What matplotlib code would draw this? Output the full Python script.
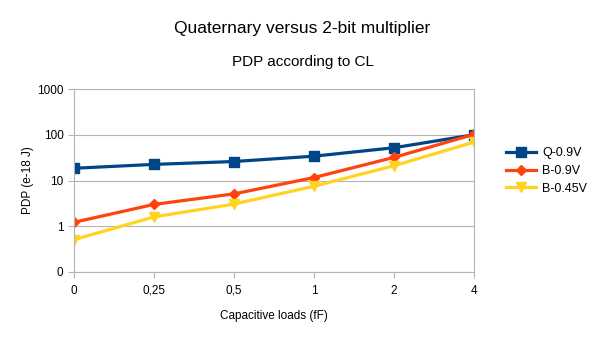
import numpy as np
import matplotlib as mpl
import matplotlib.pyplot as plt

mpl.rcParams['font.family'] = ['Liberation Sans', 'DejaVu Sans']

categories = ['0', '0,25', '0,5', '1', '2', '4']
q_09 = [18.5, 22.5, 26, 34, 52, 100]
b_09 = [1.22, 3.0, 5.1, 11.6, 32, 102]
b_045 = [0.51, 1.6, 3.05, 7.5, 21, 69]

series = [
    ('Q-0.9V', q_09, '#004586', 's', 7),
    ('B-0.9V', b_09, '#ff420e', 'D', 5),
    ('B-0.45V', b_045, '#ffd320', 'v', 7),
]

fig = plt.figure(figsize=(6.05, 3.4), dpi=100)
ax = fig.add_axes([74/605, 1-272/340, 400/605, 183/340])

x = np.arange(len(categories))
for name, vals, col, mk, ms in series:
    ax.plot(x, vals, color=col, marker=mk, markersize=ms, linewidth=2.3, label=name)

ax.set_yscale('log')
ax.set_ylim(0.1, 1000)
ax.set_xlim(0, len(categories) - 1)
ax.set_yticks([0.1, 1, 10, 100, 1000])
ax.set_yticklabels(['0', '1', '10', '100', '1000'])
ax.yaxis.set_minor_locator(mpl.ticker.NullLocator())
ax.set_xticks(x)
ax.set_xticklabels(categories)
ax.grid(axis='y', color='#b3b3b3', linewidth=0.8)
ax.set_axisbelow(True)
for s in ax.spines.values():
    s.set_color('#b3b3b3')
ax.spines['top'].set_visible(False)
ax.tick_params(colors='#b3b3b3', labelcolor='black', labelsize=8.5, length=4, width=0.8)
ax.tick_params(axis='x', pad=5)

ax.set_xlabel('Capacitive loads (fF)', fontsize=8.5, labelpad=10)
ax.set_ylabel('PDP (e-18 J)', fontsize=8.5, labelpad=2)

fig.text(0.5, 1-28/340, 'Quaternary versus 2-bit multiplier', ha='center', va='center', fontsize=12.5)
fig.text(0.5, 1-62/340, 'PDP according to CL', ha='center', va='center', fontsize=11)

ax.legend(loc='center left', bbox_to_anchor=(506/605, 1-171/340), bbox_transform=fig.transFigure,
          frameon=False, fontsize=9, handlelength=2.4, handletextpad=0.5, labelspacing=0.45,
          borderaxespad=0, borderpad=0)

fig.savefig('out.png', dpi=100)
